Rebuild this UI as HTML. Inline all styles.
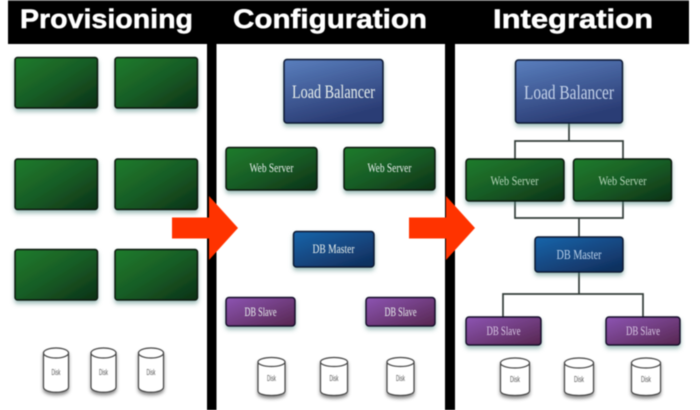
<!DOCTYPE html>
<html><head><meta charset="utf-8">
<style>
html,body{margin:0;padding:0;background:#fff;width:700px;height:410px;overflow:hidden}
svg{display:block;filter:blur(.45px)}
.t{font:bold 27px "Liberation Sans",sans-serif;fill:#fff;stroke:#fff;stroke-width:.5}
.l{font-family:"Liberation Serif",serif;text-anchor:middle;fill:#e8efec}
.d{font:8px "Liberation Sans",sans-serif;text-anchor:middle;fill:#555}
.g{fill:url(#gr);stroke:#08170d;stroke-width:1.5}
.b{fill:url(#bl);stroke:#0c1630;stroke-width:1.5}
.n{fill:url(#nv);stroke:#071730;stroke-width:1.5}
.p{fill:url(#pu);stroke:#180d2a;stroke-width:1.5}
.c{fill:none;stroke:#333d39;stroke-width:1.7}
</style></head><body>
<svg width="700" height="410" viewBox="0 0 700 410" xmlns="http://www.w3.org/2000/svg">
<defs>
<linearGradient id="gr" x1="0" y1="0" x2="1" y2="1"><stop offset="0" stop-color="#1f7c2c"/><stop offset=".5" stop-color="#185c25"/><stop offset="1" stop-color="#0c3116"/></linearGradient>
<linearGradient id="bl" x1="0" y1="0" x2=".4" y2="1"><stop offset="0" stop-color="#5a7fbe"/><stop offset="1" stop-color="#2b3d75"/></linearGradient>
<linearGradient id="nv" x1="0" y1="0" x2=".8" y2="1"><stop offset="0" stop-color="#1a65ab"/><stop offset="1" stop-color="#10305f"/></linearGradient>
<linearGradient id="pu" x1="0" y1="0" x2="1" y2="1"><stop offset="0" stop-color="#8d55b3"/><stop offset="1" stop-color="#56264f"/></linearGradient>
<filter id="s" x="-20%" y="-20%" width="140%" height="150%"><feDropShadow dx="0" dy="3" stdDeviation="2" flood-color="#3f7f78" flood-opacity=".5"/></filter>
<filter id="ds" x="-30%" y="-20%" width="160%" height="150%"><feDropShadow dx="0" dy="2.5" stdDeviation="1.5" flood-color="#333" flood-opacity=".55"/></filter>
</defs>

<rect x="8" y="0" width="681" height="44" fill="#000"/>
<rect x="8" y="0" width="681" height="1" fill="#666"/>
<rect x="207" y="44" width="9.5" height="366" fill="#000"/>
<rect x="445" y="44" width="10" height="366" fill="#000"/>

<text class="t" x="20" y="28" textLength="173" lengthAdjust="spacingAndGlyphs">Provisioning</text>
<text class="t" x="233" y="28" textLength="194" lengthAdjust="spacingAndGlyphs">Configuration</text>
<text class="t" x="493" y="28" textLength="160" lengthAdjust="spacingAndGlyphs">Integration</text>

<!-- Provisioning -->
<g filter="url(#s)">
<rect class="g" x="15" y="57.5" width="82.5" height="50.5" rx="2.5"/>
<rect class="g" x="115" y="57.5" width="82.5" height="50.5" rx="2.5"/>
<rect class="g" x="15" y="159" width="82.5" height="50.5" rx="2.5"/>
<rect class="g" x="115" y="159" width="82.5" height="50.5" rx="2.5"/>
<rect class="g" x="15" y="249.5" width="82.5" height="50.5" rx="2.5"/>
<rect class="g" x="115" y="249.5" width="82.5" height="50.5" rx="2.5"/>
</g>

<!-- Configuration -->
<g filter="url(#s)">
<rect class="b" x="284" y="59.5" width="99" height="63.5" rx="3"/>
<rect class="g" x="226" y="147.5" width="91" height="42.5" rx="3"/>
<rect class="g" x="344" y="147.5" width="91" height="42.5" rx="3"/>
<rect class="n" x="293.5" y="231.5" width="80.5" height="35.5" rx="3"/>
<rect class="p" x="226" y="297.5" width="69" height="28.5" rx="3"/>
<rect class="p" x="366" y="297.5" width="69" height="28.5" rx="3"/>
</g>
<text class="l" x="333.5" y="98" font-size="19" textLength="83" lengthAdjust="spacingAndGlyphs">Load Balancer</text>
<text class="l" x="271.5" y="172" font-size="12.5" textLength="44" lengthAdjust="spacingAndGlyphs">Web Server</text>
<text class="l" x="389.5" y="172" font-size="12.5" textLength="44" lengthAdjust="spacingAndGlyphs">Web Server</text>
<text class="l" x="333.5" y="253" font-size="13" textLength="42" lengthAdjust="spacingAndGlyphs">DB Master</text>
<text class="l" x="260.5" y="316" font-size="12.5" textLength="32" lengthAdjust="spacingAndGlyphs">DB Slave</text>
<text class="l" x="400.5" y="316" font-size="12.5" textLength="32" lengthAdjust="spacingAndGlyphs">DB Slave</text>

<!-- Integration connectors -->
<path class="c" d="M569 123V141M515 159V141H623V159M515 201V218H623V201M579 218V237M579 272V294M503 317V294H643V317"/>

<g filter="url(#s)">
<rect class="b" x="515.5" y="60" width="107" height="63" rx="3"/>
<rect class="g" x="466" y="159" width="98" height="42" rx="3"/>
<rect class="g" x="573.5" y="159" width="98" height="42" rx="3"/>
<rect class="n" x="535" y="237" width="88" height="35" rx="3"/>
<rect class="p" x="466" y="317" width="75" height="28" rx="3"/>
<rect class="p" x="606" y="317" width="74" height="28" rx="3"/>
</g>
<text class="l" x="569" y="99" font-size="20" textLength="90" lengthAdjust="spacingAndGlyphs" style="fill:#c5d3ea">Load Balancer</text>
<text class="l" x="514.5" y="185" font-size="13" textLength="48" lengthAdjust="spacingAndGlyphs" style="fill:#b5d5b8">Web Server</text>
<text class="l" x="622.5" y="185" font-size="13" textLength="48" lengthAdjust="spacingAndGlyphs" style="fill:#b5d5b8">Web Server</text>
<text class="l" x="579" y="259" font-size="14" textLength="45" lengthAdjust="spacingAndGlyphs" style="fill:#b8d0ea">DB Master</text>
<text class="l" x="503.5" y="335" font-size="13" textLength="34" lengthAdjust="spacingAndGlyphs" style="fill:#d8c8e4">DB Slave</text>
<text class="l" x="643" y="335" font-size="13" textLength="34" lengthAdjust="spacingAndGlyphs" style="fill:#d8c8e4">DB Slave</text>

<!-- Disks -->
<g fill="#fff" stroke="#444" stroke-width="1.2">
<g filter="url(#ds)">
<path d="M43.5 353V387C43.5 394 68.5 394 68.5 387V353Z"/><ellipse cx="56" cy="353" rx="12.5" ry="5"/>
<path d="M91 353V387C91 394 116 394 116 387V353Z"/><ellipse cx="103.500" cy="353" rx="12.500" ry="5"/>
<path d="M138.500 353V387C138.500 394 163.500 394 163.500 387V353Z"/><ellipse cx="151" cy="353" rx="12.500" ry="5"/>
<path d="M258 362V391C258 397 285 397 285 391V362Z"/><ellipse cx="271.500" cy="362" rx="13.500" ry="4.500"/>
<path d="M320.500 362V391C320.500 397 347.500 397 347.500 391V362Z"/><ellipse cx="334" cy="362" rx="13.500" ry="4.500"/>
<path d="M387 362V391C387 397 414 397 414 391V362Z"/><ellipse cx="400.500" cy="362" rx="13.500" ry="4.500"/>
<path d="M500.500 363V391C500.500 397 529.500 397 529.500 391V363Z"/><ellipse cx="515" cy="363" rx="14.500" ry="5"/>
<path d="M564.500 363V391C564.500 397 593.500 397 593.500 391V363Z"/><ellipse cx="579" cy="363" rx="14.500" ry="5"/>
<path d="M631.500 363V391C631.500 397 660.500 397 660.500 391V363Z"/><ellipse cx="646" cy="363" rx="14.500" ry="5"/>
</g>
</g>
<text class="d" x="56" y="375" textLength="9" lengthAdjust="spacingAndGlyphs">Disk</text>
<text class="d" x="103.500" y="375" textLength="9" lengthAdjust="spacingAndGlyphs">Disk</text>
<text class="d" x="151" y="375" textLength="9" lengthAdjust="spacingAndGlyphs">Disk</text>
<text class="d" x="271.500" y="381" textLength="9" lengthAdjust="spacingAndGlyphs">Disk</text>
<text class="d" x="334" y="381" textLength="9" lengthAdjust="spacingAndGlyphs">Disk</text>
<text class="d" x="400.500" y="381" textLength="9" lengthAdjust="spacingAndGlyphs">Disk</text>
<text class="d" x="515" y="382" textLength="10" lengthAdjust="spacingAndGlyphs">Disk</text>
<text class="d" x="579" y="382" textLength="10" lengthAdjust="spacingAndGlyphs">Disk</text>
<text class="d" x="646" y="382" textLength="10" lengthAdjust="spacingAndGlyphs">Disk</text>

<!-- Arrows -->
<path d="M172 217.500H209V196L238 228L209 260V238.500H172Z" fill="#ff3300"/>
<path d="M409 217.500H446V196L475 228L446 260V238.500H409Z" fill="#ff3300"/>
</svg>
</body></html>
